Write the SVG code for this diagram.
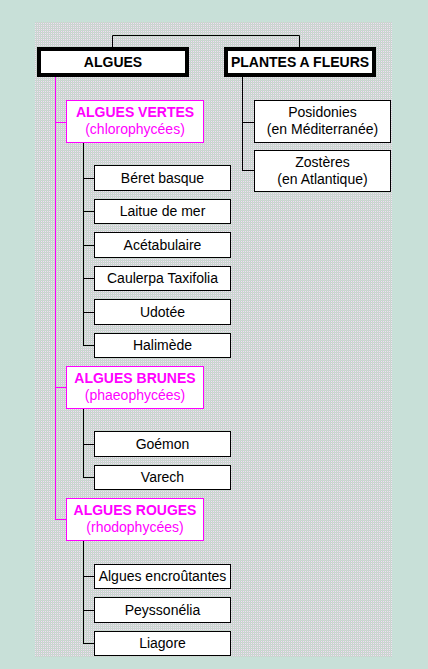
<svg xmlns="http://www.w3.org/2000/svg" width="428" height="669" viewBox="0 0 428 669">
<defs>
<pattern id="dither" width="2" height="2" patternUnits="userSpaceOnUse">
<rect width="2" height="2" fill="#CCC8D8"/>
<rect x="0" y="0" width="1" height="1" fill="#C8E4C8"/>
<rect x="1" y="1" width="1" height="1" fill="#ECECE8"/>
</pattern>
</defs>
<style>
.top{fill:#fff;stroke:#000;stroke-width:4}
.cat{fill:#fff;stroke:#FF00FF;stroke-width:1}
.leaf{fill:#fff;stroke:#000;stroke-width:1}
.tb{font-family:"Liberation Sans",Arial,sans-serif;font-weight:bold;font-size:14px;text-anchor:middle;fill:#000}
.tc{font-family:"Liberation Sans",Arial,sans-serif;font-weight:bold;font-size:14px;text-anchor:middle;fill:#FF00FF}
.ts{font-family:"Liberation Sans",Arial,sans-serif;font-size:14px;text-anchor:middle;fill:#FF00FF}
.tl{font-family:"Liberation Sans",Arial,sans-serif;font-size:14px;text-anchor:middle;fill:#000}
.cb{fill:none;stroke:#000;stroke-width:1}
.cm{fill:none;stroke:#FF00FF;stroke-width:1}
</style>
<rect width="428" height="669" fill="#C8E0D8"/>
<rect x="35" y="22" width="357" height="635" fill="url(#dither)"/>

<g id="connectors">
<path class="cb" d="M112.5,47 V35.5 H299.5 V47"/>
<path class="cm" d="M55.5,77 V519.5 M55,122.5 H66 M55,387.5 H66 M55,519.5 H66"/>
<path class="cb" d="M242.5,77 V170.5 M242,122.5 H254 M242,170.5 H254"/>
<path class="cb" d="M83.5,143 V345.5 M83,178.5 H94 M83,211.5 H94 M83,245.5 H94 M83,278.5 H94 M83,312.5 H94 M83,345.5 H94"/>
<path class="cb" d="M83.5,408 V477.5 M83,444.5 H94 M83,477.5 H94"/>
<path class="cb" d="M83.5,541 V643.5 M83,576.5 H94 M83,610.5 H94 M83,643.5 H94"/>
</g>

<g id="algues">
<rect class="top" x="39" y="49" width="148" height="26"/>
<text class="tb" x="113" y="67">ALGUES</text>
</g>
<g id="plantes">
<rect class="top" x="226" y="49" width="148" height="26"/>
<text class="tb" x="300" y="67">PLANTES A FLEURS</text>
</g>

<g id="posidonies">
<rect class="leaf" x="254.5" y="100.5" width="136" height="42"/>
<text class="tl" x="322.5" y="117">Posidonies</text>
<text class="tl" x="322.5" y="134">(en Méditerranée)</text>
</g>
<g id="zosteres">
<rect class="leaf" x="254.5" y="150.5" width="136" height="41"/>
<text class="tl" x="322.5" y="167">Zostères</text>
<text class="tl" x="322.5" y="184">(en Atlantique)</text>
</g>

<g id="vertes">
<rect class="cat" x="66.5" y="100.5" width="137" height="42"/>
<text class="tc" x="135" y="117">ALGUES VERTES</text>
<text class="ts" x="135" y="134">(chlorophycées)</text>
</g>
<g id="beret"><rect class="leaf" x="94.5" y="165.5" width="136" height="25"/><text class="tl" x="162.5" y="183">Béret basque</text></g>
<g id="laitue"><rect class="leaf" x="94.5" y="199.5" width="136" height="24"/><text class="tl" x="162.5" y="216">Laitue de mer</text></g>
<g id="acetabulaire"><rect class="leaf" x="94.5" y="232.5" width="136" height="25"/><text class="tl" x="162.5" y="250">Acétabulaire</text></g>
<g id="caulerpa"><rect class="leaf" x="94.5" y="266.5" width="136" height="24"/><text class="tl" x="162.5" y="283">Caulerpa Taxifolia</text></g>
<g id="udotee"><rect class="leaf" x="94.5" y="299.5" width="136" height="25"/><text class="tl" x="162.5" y="317">Udotée</text></g>
<g id="halimede"><rect class="leaf" x="94.5" y="333.5" width="136" height="24"/><text class="tl" x="162.5" y="350">Halimède</text></g>

<g id="brunes">
<rect class="cat" x="66.5" y="366.5" width="137" height="42"/>
<text class="tc" x="135" y="383">ALGUES BRUNES</text>
<text class="ts" x="135" y="400">(phaeophycées)</text>
</g>
<g id="goemon"><rect class="leaf" x="94.5" y="431.5" width="136" height="25"/><text class="tl" x="162.5" y="449">Goémon</text></g>
<g id="varech"><rect class="leaf" x="94.5" y="465.5" width="136" height="24"/><text class="tl" x="162.5" y="482">Varech</text></g>

<g id="rouges">
<rect class="cat" x="66.5" y="498.5" width="137" height="42"/>
<text class="tc" x="135" y="515">ALGUES ROUGES</text>
<text class="ts" x="135" y="532">(rhodophycées)</text>
</g>
<g id="encroutantes"><rect class="leaf" x="94.5" y="564.5" width="136" height="24"/><text class="tl" x="162.5" y="581">Algues encroûtantes</text></g>
<g id="peyssonelia"><rect class="leaf" x="94.5" y="597.5" width="136" height="25"/><text class="tl" x="162.5" y="615">Peyssonélia</text></g>
<g id="liagore"><rect class="leaf" x="94.5" y="631.5" width="136" height="24"/><text class="tl" x="162.5" y="648">Liagore</text></g>
</svg>
